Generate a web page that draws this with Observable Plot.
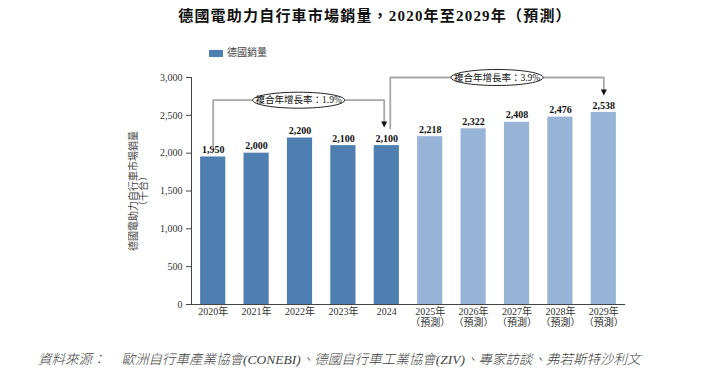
<!DOCTYPE html>
<html>
<head>
<meta charset="utf-8">
<script src="https://cdn.jsdelivr.net/npm/d3@7"></script>
<script src="https://cdn.jsdelivr.net/npm/@observablehq/plot@0.6"></script>
<style>
  html, body { margin: 0; padding: 0; background: #fff; }
  #wrap { width: 710px; height: 384px; position: relative; overflow: hidden; font-family: "Liberation Serif", "Noto Sans CJK TC", serif; color: #222; }
  #title { height: 42px; line-height: 32px; text-align: center; padding-left: 40px; box-sizing: border-box; font-size: 15px; font-weight: bold; letter-spacing: 1.2px; color: #111; white-space: nowrap; }
  #legend { height: 22px; line-height: 22px; position: relative; font-size: 10px; color: #444; }
  #legend .sw { position: absolute; left: 209px; top: 8px; width: 14px; height: 7px; }
  #legend .lb { position: absolute; left: 227px; top: 0; }
  #chart { height: 276px; }
  #chart svg { display: block; }
  #caption { height: 44px; line-height: 40px; padding-left: 38px; font-size: 13.5px; font-style: italic; font-weight: 300; color: #444; white-space: nowrap; }
</style>
</head>
<body>
<div id="wrap">
  <div id="title"></div>
  <div id="legend"><span class="sw"></span><span class="lb"></span></div>
  <div id="chart"></div>
  <div id="caption"></div>
</div>
<script>
// ---- data ----
const titleText = "德國電助力自行車市場銷量，2020年至2029年（預測）";
const legendLabel = "德國銷量";
const yTitle = "德國電助力自行車市場銷量\n（千台）";
const years = [2020, 2021, 2022, 2023, 2024, 2025, 2026, 2027, 2028, 2029];
const sales = [1950, 2000, 2200, 2100, 2100, 2218, 2322, 2408, 2476, 2538];
const isForecast = [false, false, false, false, false, true, true, true, true, true];
const xLabels = ["2020年", "2021年", "2022年", "2023年", "2024", "2025年\n（預測）", "2026年\n（預測）", "2027年\n（預測）", "2028年\n（預測）", "2029年\n（預測）"];
const yTicks = [0, 500, 1000, 1500, 2000, 2500, 3000];
const cagrFrom = [2020, 2024];
const cagrTo = [2024, 2029];
const cagrLabels = ["複合年增長率：1.9%", "複合年增長率：3.9%"];
const captionLead = "資料來源：";
const captionBody = "歐洲自行車產業協會(CONEBI)、德國自行車工業協會(ZIV)、專家訪談、弗若斯特沙利文";

// ---- style ----
const dark = "#4e7fb0";
const light = "#97b4d6";
const bracketColor = "#a8a8a8";

document.getElementById("title").textContent = titleText;
document.querySelector("#legend .sw").style.background = dark;
document.querySelector("#legend .lb").textContent = legendLabel;
const cap = document.getElementById("caption");
cap.innerHTML = "";
const s1 = document.createElement("span"); s1.textContent = captionLead;
const s2 = document.createElement("span"); s2.textContent = captionBody; s2.style.marginLeft = "16px";
cap.appendChild(s1); cap.appendChild(s2);

const data = years.map((y, i) => ({year: y, value: sales[i], forecast: isForecast[i], label: xLabels[i]}));
const valueOf = y => sales[years.indexOf(y)];
const yMax = yTicks[yTicks.length - 1];
const xMin = years[0] - 0.5, xMax = years[years.length - 1] + 0.5;

// brackets (computed from data)
const brackets = cagrFrom.map((f, i) => {
  const t = cagrTo[i];
  const level = i === 0 ? yMax - 300 : yMax;
  const x1 = i === 0 ? f : f + 0.08;
  const x2 = i === 0 ? t - 0.06 : t;
  const startY = valueOf(f) + (i === 0 ? 125 : 226);
  const endY = valueOf(t) + (i === 0 ? 240 : 224);
  return {i, x1, x2, level, startY, endY, mid: (x1 + x2) / 2, label: cagrLabels[i]};
});
const bracketPts = brackets.flatMap(b => [
  {g: b.i, x: b.x1, y: b.startY},
  {g: b.i, x: b.x1, y: b.level},
  {g: b.i, x: b.x2, y: b.level},
  {g: b.i, x: b.x2, y: b.endY + 70}
]);

const ellipseSymbol = {
  draw(ctx) {
    const rx = 46, ry = 8, k = 0.5523;
    ctx.moveTo(rx, 0);
    ctx.bezierCurveTo(rx, ry * k, rx * k, ry, 0, ry);
    ctx.bezierCurveTo(-rx * k, ry, -rx, ry * k, -rx, 0);
    ctx.bezierCurveTo(-rx, -ry * k, -rx * k, -ry, 0, -ry);
    ctx.bezierCurveTo(rx * k, -ry, rx, -ry * k, rx, 0);
    ctx.closePath();
  }
};
const arrowSymbol = {
  draw(ctx) {
    ctx.moveTo(-3, -6);
    ctx.lineTo(3, -6);
    ctx.lineTo(0, 0);
    ctx.closePath();
  }
};

const chart = Plot.plot({
  width: 710,
  height: 276,
  marginTop: 13,
  marginBottom: 36,
  marginLeft: 191,
  marginRight: 85,
  style: {fontFamily: "'Liberation Serif', 'Noto Sans CJK TC', serif", fontSize: "10px", background: "transparent", color: "#333", overflow: "visible"},
  x: {type: "linear", domain: [xMin, xMax]},
  y: {domain: [0, yMax]},
  marks: [
    Plot.rectY(data, {x1: d => d.year - 0.29, x2: d => d.year + 0.29, y: "value", fill: d => d.forecast ? light : dark}),
    Plot.ruleY([0], {stroke: "#444", strokeWidth: 1}),
    Plot.ruleX([xMin], {stroke: "#444", strokeWidth: 1}),
    Plot.axisY({ticks: yTicks, tickSize: 5, tickPadding: 4, tickFormat: d3.format(","), label: null, stroke: "#444", fill: "#333", fontSize: 10}),
    Plot.axisX({ticks: years, tickSize: 0, tickPadding: 3, tickFormat: d => xLabels[years.indexOf(d)], label: null, lineHeight: 1.1, fill: "#333", fontSize: 10}),
    Plot.text(data, {x: "year", y: "value", text: d => d3.format(",")(d.value), dy: -7, fontWeight: "bold", fontSize: 10, fill: "#111"}),
    Plot.text([yTitle], {frameAnchor: "left", textAnchor: "middle", lineAnchor: "middle", dx: -53, rotate: -90, text: d => d, fontSize: 10, fill: "#444", lineHeight: 1.05}),
    Plot.line(bracketPts, {x: "x", y: "y", z: "g", stroke: bracketColor, strokeWidth: 1.8, curve: "linear"}),
    Plot.dot(brackets, {x: "x2", y: "endY", symbol: arrowSymbol, fill: "#111", stroke: "none"}),
    Plot.dot(brackets, {x: "mid", y: "level", symbol: ellipseSymbol, fill: "white", stroke: "#222", strokeWidth: 1}),
    Plot.text(brackets, {x: "mid", y: "level", text: "label", fontSize: 9.5, fill: "#111"})
  ]
});
document.getElementById("chart").appendChild(chart);
</script>
</body>
</html>
